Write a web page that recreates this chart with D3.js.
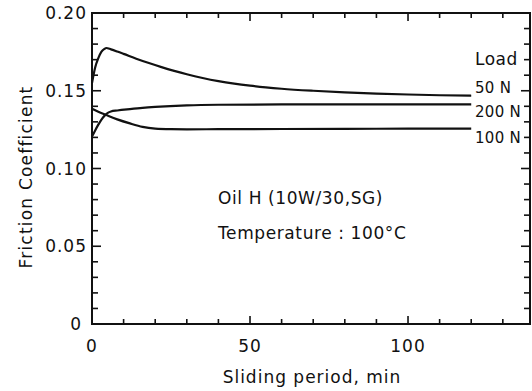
<!DOCTYPE html>
<html><head><meta charset="utf-8">
<script src="https://cdn.jsdelivr.net/npm/d3@7"></script>
<style>
body{margin:0;background:#fff;}
svg text{font-family:"DejaVu Sans",sans-serif;fill:#111;}
</style></head>
<body><svg id="c" width="532" height="391"></svg>
<script>
// ---- data ----
const load50t  = [0,1,2,3,4,4.5,6,8,10,14,18,22,26,30,35,40,45,50,55,60,70,80,90,100,110,120];
const load50v  = [0.155,0.165,0.171,0.1752,0.1770,0.1775,0.1766,0.1752,0.1737,0.1706,0.1678,0.1652,0.1628,0.1606,0.1582,0.1562,0.1546,0.1533,0.1522,0.1513,0.1500,0.1490,0.1482,0.1476,0.1471,0.1468];
const load200t = [0,1,2,3,4,5,6,8,12,16,20,30,40,60,80,100,120];
const load200v = [0.1205,0.1245,0.1282,0.1315,0.1340,0.1358,0.1367,0.1373,0.1382,0.1390,0.1396,0.1406,0.1410,0.1412,0.1412,0.1413,0.1413];
const load100t = [0,2,4.4,8,12,16,20,25,30,40,60,80,100,120];
const load100v = [0.1385,0.1365,0.1345,0.1316,0.1290,0.1268,0.1257,0.1253,0.1252,0.1253,0.1254,0.1255,0.1256,0.1257];
const loadLabels = ["50 N","200 N","100 N"];
const xTickLabels = [0,50,100];
const yTickLabels = ["0","0.05","0.10","0.15","0.20"];
const yTickValues = [0,0.05,0.10,0.15,0.20];

const svg = d3.select("#c");
const L=92, R=530, T=13, B=324;
const x = d3.scaleLinear().domain([0,138.6]).range([L,R]);
const y = d3.scaleLinear().domain([0,0.20]).range([B,T]);

const fs = 17;
// frame
svg.append("rect").attr("x",L).attr("y",T).attr("width",R-L).attr("height",B-T)
  .attr("fill","none").attr("stroke","#111").attr("stroke-width",2);

// ticks
const xMinor = d3.range(0,139,10);
xMinor.forEach(v=>{
  const major = v%50===0;
  const len = major?8:5;
  if(v===0) return;
  svg.append("line").attr("x1",x(v)).attr("x2",x(v)).attr("y1",B).attr("y2",B-len).attr("stroke","#111").attr("stroke-width",1.6);
  svg.append("line").attr("x1",x(v)).attr("x2",x(v)).attr("y1",T).attr("y2",T+len).attr("stroke","#111").attr("stroke-width",1.6);
});
const yMinor = d3.range(0,21,1).map(d=>d/100);
yMinor.forEach((v,i)=>{
  if(i===0||i===20) return;
  const major = i%5===0;
  const len = major?9:6;
  svg.append("line").attr("x1",L).attr("x2",L+len).attr("y1",y(v)).attr("y2",y(v)).attr("stroke","#111").attr("stroke-width",1.6);
  svg.append("line").attr("x1",R).attr("x2",R-len).attr("y1",y(v)).attr("y2",y(v)).attr("stroke","#111").attr("stroke-width",1.6);
});

// tick labels
xTickLabels.forEach(v=>{
  svg.append("text").attr("x",x(v)).attr("y",352).attr("text-anchor","middle")
    .attr("font-size",fs).attr("letter-spacing",1).text(v);
});
yTickValues.forEach((v,i)=>{
  svg.append("text").attr("x",i===0?82:87).attr("y",y(v)+6).attr("text-anchor","end")
    .attr("font-size",fs).attr("letter-spacing",1).text(yTickLabels[i]);
});

// axis titles
svg.append("text").attr("x",(L+R)/2+1).attr("y",383).attr("text-anchor","middle")
  .attr("font-size",fs).attr("letter-spacing",1).text("Sliding period, min");
svg.append("text").attr("transform","translate(32,177) rotate(-90)").attr("text-anchor","middle")
  .attr("font-size",fs).attr("letter-spacing",1.2).text("Friction Coefficient");

// curves
const line = d3.line().x(d=>x(d[0])).y(d=>y(d[1])).curve(d3.curveMonotoneX);
[[load50t,load50v],[load200t,load200v],[load100t,load100v]].forEach(([t,v])=>{
  svg.append("path").datum(t.map((tt,i)=>[tt,v[i]])).attr("d",line)
    .attr("fill","none").attr("stroke","#111").attr("stroke-width",2.2);
});

// labels
svg.append("text").attr("x",475).attr("y",65).attr("font-size",fs).attr("letter-spacing",0.5).text("Load");
const labY=[93,117,143];
loadLabels.forEach((s,i)=>{
  svg.append("text").attr("x",475).attr("y",labY[i]).attr("font-size",15).attr("letter-spacing",0.3).text(s);
});
svg.append("text").attr("x",218).attr("y",204).attr("font-size",fs).attr("letter-spacing",0.6).text("Oil H (10W/30,SG)");
svg.append("text").attr("x",218).attr("y",239).attr("font-size",fs).attr("letter-spacing",0.6).text("Temperature : 100°C");
</script></body></html>
